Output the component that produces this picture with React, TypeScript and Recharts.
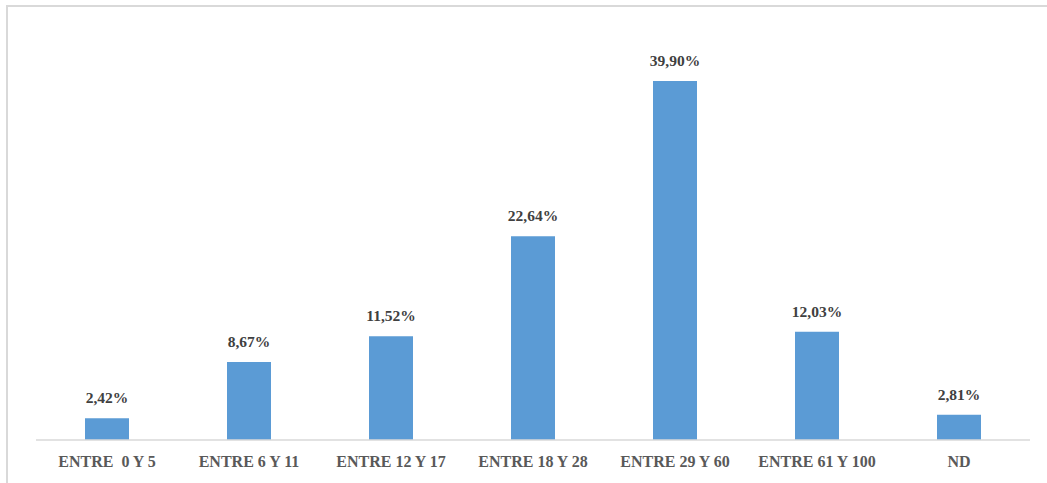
import { BarChart, Bar, XAxis, YAxis, LabelList } from 'recharts';

const categories = [
  'ENTRE  0 Y 5',
  'ENTRE 6 Y 11',
  'ENTRE 12 Y 17',
  'ENTRE 18 Y 28',
  'ENTRE 29 Y 60',
  'ENTRE 61 Y 100',
  'ND',
];
const shares = [2.42, 8.67, 11.52, 22.64, 39.9, 12.03, 2.81];

const chartData = categories.map((name, i) => ({ name, value: shares[i] }));

const FONT = "'Liberation Serif', serif";

function CategoryTick({ x, y, payload }: { x?: number; y?: number; payload?: { value: string } }) {
  return (
    <text
      x={x}
      y={(y ?? 0) + 19}
      textAnchor="middle"
      fill="#595959"
      style={{ whiteSpace: 'pre', fontFamily: FONT, fontWeight: 700, fontSize: 16 }}
    >
      {payload?.value}
    </text>
  );
}

const pct = (v: number) => `${v.toFixed(2).replace('.', ',')}%`;

function ValueLabel(props: any) {
  const { x, y, width, value } = props;
  return (
    <text
      x={Number(x) + Number(width) / 2}
      y={Number(y) - 15}
      textAnchor="middle"
      fill="#404040"
      style={{ fontFamily: FONT, fontWeight: 700, fontSize: 15.5 }}
    >
      {pct(Number(value))}
    </text>
  );
}

export default function App() {
  return (
    <div style={{ position: 'absolute', left: 0, top: 0, width: 1047, height: 483, background: '#fff' }}>
      <div
        style={{
          position: 'absolute',
          left: 6,
          top: 5,
          width: 1041,
          height: 478,
          borderTop: '2px solid #d9d9d9',
          borderLeft: '2px solid #d9d9d9',
          boxSizing: 'border-box',
        }}
      />
      <div style={{ position: 'absolute', left: 0, top: 0 }}>
        <BarChart
          width={1047}
          height={483}
          data={chartData}
          margin={{ top: 35, right: 17, left: 36, bottom: 0 }}
        >
          <XAxis
            dataKey="name"
            height={43}
            tickLine={false}
            axisLine={{ stroke: '#d9d9d9', strokeWidth: 1.5 }}
            tick={<CategoryTick />}
            interval={0}
          />
          <YAxis hide domain={[0, 45]} />
          <Bar dataKey="value" fill="#5b9bd5" barSize={44} isAnimationActive={false}>
            <LabelList dataKey="value" content={<ValueLabel />} />
          </Bar>
        </BarChart>
      </div>
    </div>
  );
}
